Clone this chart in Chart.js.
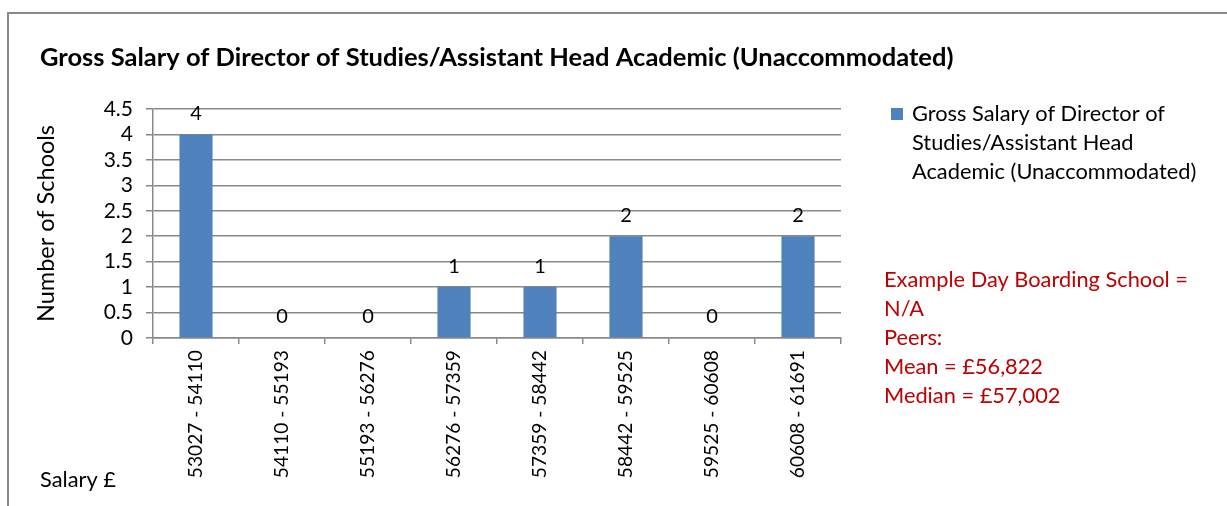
<!DOCTYPE html>
<html>
<head>
<meta charset="utf-8">
<script src="https://cdn.jsdelivr.net/npm/chart.js@4"></script>
<style>
  body { margin: 0; background: #fff; }
  #wrap { position: relative; width: 1227px; height: 506px; overflow: hidden; }
  #frame { position: absolute; left: 7px; top: 12px; width: 1240px; height: 520px; border: 2px solid #8a8a8a; box-sizing: border-box; }
  canvas { position: absolute; left: 0; top: 0; }
</style>
</head>
<body>
<div id="wrap">
  <div id="frame"></div>
  <canvas id="salaryChart" width="1227" height="506"></canvas>
</div>
<script>
const chartTitle = "Gross Salary of Director of Studies/Assistant Head Academic (Unaccommodated)";
const salaryBands = ["53027 - 54110", "54110 - 55193", "55193 - 56276", "56276 - 57359",
                     "57359 - 58442", "58442 - 59525", "59525 - 60608", "60608 - 61691"];
const schoolCounts = [4, 0, 0, 1, 1, 2, 0, 2];
const legendLines = ["Gross Salary of Director of", "Studies/Assistant Head", "Academic (Unaccommodated)"];
const noteLines = ["Example Day Boarding School =", "N/A", "Peers:", "Mean = £56,822", "Median = £57,002"];

const FONT = "Lato, 'Open Sans', sans-serif";
const barBlue = "#4F81BD";
const gridGray = "#898989";

// text bits drawn straight on the canvas
const extras = {
  id: "extras",
  afterDatasetsDraw(chart) {
    const ctx = chart.ctx;
    ctx.save();
    ctx.textBaseline = "middle";

    // value labels above each bar
    ctx.font = "20px " + FONT;
    ctx.fillStyle = "#000";
    ctx.textAlign = "center";
    const meta = chart.getDatasetMeta(0);
    meta.data.forEach((bar, i) => {
      ctx.fillText(String(schoolCounts[i]), bar.x, bar.y - 21);
    });

    // title
    ctx.textAlign = "left";
    ctx.font = "bold 25.5px " + FONT;
    ctx.fillText(chartTitle, 40, 58);

    // legend
    ctx.fillStyle = barBlue;
    ctx.fillRect(891, 108, 12, 12);
    ctx.fillStyle = "#000";
    ctx.font = "21.8px " + FONT;
    legendLines.forEach((t, i) => ctx.fillText(t, 912, 114 + i * 29));

    // peer note
    ctx.fillStyle = "#C00000";
    noteLines.forEach((t, i) => ctx.fillText(t, 884, 280 + i * 29));

    // x axis caption
    ctx.fillStyle = "#000";
    ctx.fillText("Salary £", 40, 480);
    ctx.restore();
  }
};

new Chart(document.getElementById("salaryChart"), {
  type: "bar",
  data: {
    labels: salaryBands,
    datasets: [{
      label: chartTitle,
      data: schoolCounts,
      backgroundColor: barBlue,
      categoryPercentage: 1,
      barPercentage: 0.385
    }]
  },
  options: {
    responsive: false,
    animation: false,
    devicePixelRatio: 1,
    layout: { padding: { left: 20, top: 109, right: 386, bottom: 0 } },
    plugins: { legend: { display: false }, title: { display: false }, tooltip: { enabled: false } },
    scales: {
      x: {
        grid: { drawOnChartArea: false, drawTicks: true, tickLength: 6, color: gridGray, lineWidth: 1.5 },
        border: { color: gridGray, width: 1.5 },
        ticks: { color: "#000", font: { family: FONT, size: 19.2 }, maxRotation: 90, minRotation: 90, padding: 6, autoSkip: false },
        afterFit: s => { s.height = 168; }
      },
      y: {
        min: 0, max: 4.5,
        grid: { color: gridGray, lineWidth: 1.5, tickLength: 7 },
        border: { color: gridGray, width: 1.5 },
        ticks: { stepSize: 0.5, autoSkip: false, color: "#000", font: { family: FONT, size: 21 }, padding: 13,
                 callback: v => String(v) },
        title: { display: true, text: "Number of Schools", color: "#000", font: { family: FONT, size: 23.5 }, padding: { top: 12, bottom: 0 } },
        afterFit: s => { s.width = 133; }
      }
    }
  },
  plugins: [extras]
});
</script>
</body>
</html>
